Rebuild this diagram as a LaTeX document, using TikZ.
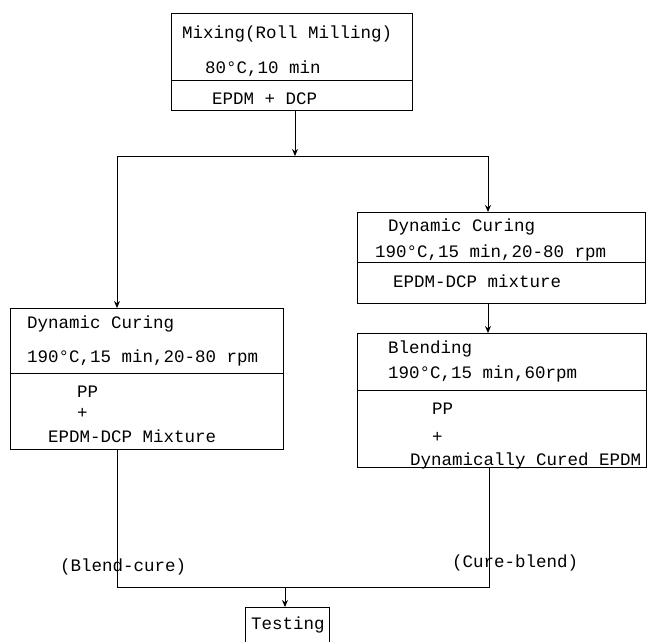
\documentclass[tikz,border=0pt]{standalone}
\usepackage{fontspec}
\newfontfamily\monofam{Liberation Mono}
\usetikzlibrary{arrows.meta}
\tikzset{
  box/.style={draw, line width=0.9pt, inner sep=0pt, anchor=north west},
  txt/.style={anchor=west, inner sep=0pt, text height=11pt, text depth=0pt,
              font=\monofam\fontsize{17.5}{20}\selectfont},
  wire/.style={line width=0.9pt},
  arr/.style={line width=0.9pt, -{Stealth[length=7pt,width=6pt]}}
}
\begin{document}
\begin{tikzpicture}[x=1pt,y=-1pt]
\useasboundingbox (0,0) rectangle (647,641);
% top box
\node[box, minimum width=241, minimum height=67] (mixA) at (171,13) {};
\node[box, minimum width=241, minimum height=30] (mixB) at (171,80) {};
\node[txt] (t1) at (182,33) {Mixing(Roll Milling)};
\node[txt] (t2) at (205,68) {80°C,10 min};
\node[txt] (t3) at (212,99) {EPDM + DCP};
% left box
\node[box, minimum width=273, minimum height=65] (dynLA) at (10,308) {};
\node[box, minimum width=273, minimum height=76] (dynLB) at (10,373) {};
\node[txt] (l1) at (27,323) {Dynamic Curing};
\node[txt] (l2) at (27,357) {190°C,15 min,20-80 rpm};
\node[txt] (l3) at (77,392) {PP};
\node[txt] (l4) at (77,413) {+};
\node[txt] (l5) at (48,437) {EPDM-DCP Mixture};
% right box 1
\node[box, minimum width=288, minimum height=50] (dynRA) at (357,212) {};
\node[box, minimum width=288, minimum height=41] (dynRB) at (357,262) {};
\node[txt] (r1) at (388,226) {Dynamic Curing};
\node[txt] (r2) at (375,252) {190°C,15 min,20-80 rpm};
\node[txt] (r3) at (393,282) {EPDM-DCP mixture};
% right box 2
\node[box, minimum width=289, minimum height=57] (blA) at (357,333) {};
\node[box, minimum width=289, minimum height=77] (blB) at (357,390) {};
\node[txt] (b1) at (388,348) {Blending};
\node[txt] (b2) at (388,373) {190°C,15 min,60rpm};
\node[txt] (b3) at (432,409) {PP};
\node[txt] (b4) at (432,437) {+};
\node[txt] (b5) at (410,460) {Dynamically Cured EPDM};
% testing
\node[box, minimum width=84, minimum height=60] (test) at (245,607) {};
\node[txt] (tt) at (251,624) {Testing};
% connectors
\coordinate (split) at (295,156);
\coordinate (lt) at (117,156);
\coordinate (rt) at (488,156);
\draw[arr] (mixB.south -| split) -- (split);
\draw[wire] (lt) -- (rt);
\draw[arr] (lt) -- (lt |- dynLA.north);
\draw[arr] (rt) -- (rt |- dynRA.north);
\draw[arr] (dynRB.south -| rt) -- (blA.north -| rt);
\coordinate (jl) at (117,587);
\coordinate (jr) at (489,587);
\coordinate (jm) at (285,587);
\draw[wire] (dynLB.south -| jl) -- (jl) -- (jr) -- (blB.south -| jr);
\draw[arr] (jm) -- (test.north -| jm);
% labels
\node[txt] (lb1) at (60,566) {(Blend-cure)};
\node[txt] (lb2) at (452,562) {(Cure-blend)};
\end{tikzpicture}
\end{document}
